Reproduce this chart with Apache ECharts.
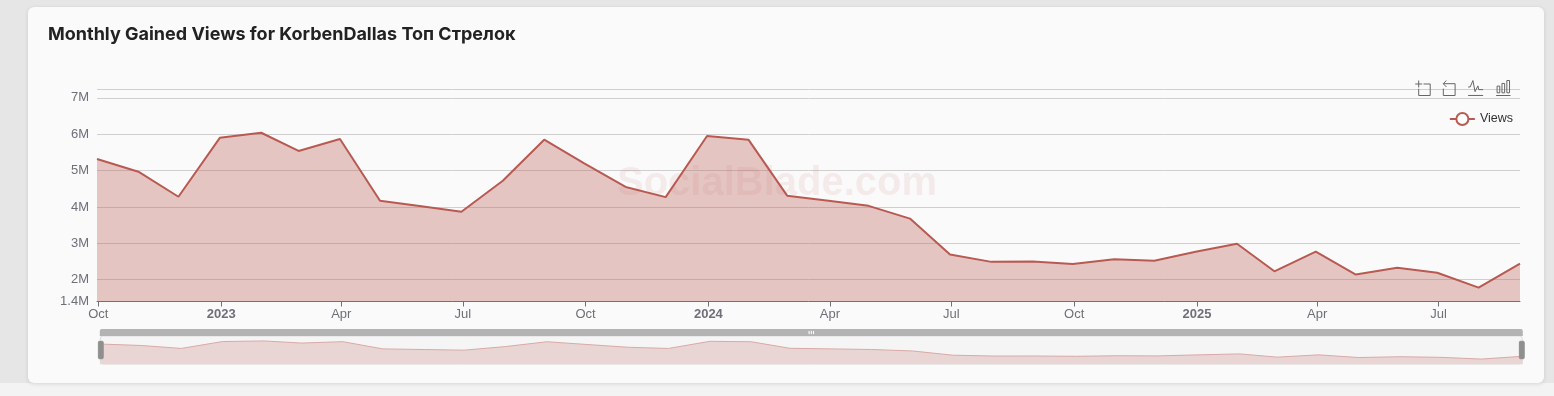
<!DOCTYPE html>
<html><head><meta charset="utf-8">
<script src="https://cdn.jsdelivr.net/npm/echarts@6/dist/echarts.min.js"></script>
<style>
html,body{margin:0;padding:0;width:1554px;height:396px;overflow:hidden;background:#f3f3f3}
#side{position:absolute;left:0;top:0;width:1554px;height:383px;background:#e6e6e6}
#card{position:absolute;left:28px;top:7px;width:1516px;height:376px;background:#fafafa;border-radius:6px;box-shadow:0 1px 4px rgba(0,0,0,.12)}
#main{position:absolute;left:0;top:0;width:1554px;height:396px}
</style></head><body>
<div id="side"></div><div id="card"></div><div id="main"></div>
<script>
const months = ['2022-09-30','2022-10-31','2022-11-30','2022-12-31','2023-01-31','2023-02-28','2023-03-31','2023-04-30','2023-05-31','2023-06-30','2023-07-31','2023-08-31','2023-09-30','2023-10-31','2023-11-30','2023-12-31','2024-01-31','2024-02-29','2024-03-31','2024-04-30','2024-05-31','2024-06-30','2024-07-31','2024-08-31','2024-09-30','2024-10-31','2024-11-30','2024-12-31','2025-01-31','2025-02-28','2025-03-31','2025-04-30','2025-05-31','2025-06-30','2025-07-31','2025-08-31'];
const views = [5.32,4.97,4.28,5.90,6.04,5.54,5.87,4.17,4.02,3.87,4.72,5.85,5.20,4.55,4.27,5.95,5.85,4.31,4.17,4.03,3.68,2.69,2.49,2.50,2.43,2.56,2.52,2.77,2.99,2.23,2.77,2.14,2.33,2.19,1.78,2.44];
const valueTicks = [1.4,2,3,4,5,6,7];
const chart = echarts.init(document.getElementById('main'), null, {renderer:'canvas'});
const color = '#b85a52';
const txt = '#6e7079';
const font = '"Liberation Sans", Arial, sans-serif';
chart.setOption({
  animation:false,
  title:{text:'Monthly Gained Views for KorbenDallas Топ Стрелок',left:48,top:26,padding:0,
    textStyle:{fontFamily:'Inter',fontSize:18,fontWeight:700,color:'#222'}},
  grid:{left:97,right:34,top:89.5,height:212},
  legend:{data:['Views'],right:36,top:107,itemWidth:25,itemHeight:15,itemGap:5,
    textStyle:{fontFamily:font,fontSize:12.5,color:'#333'}},
  toolbox:{right:26,top:63,itemSize:15,itemGap:8,iconStyle:{borderColor:'#666'},
    feature:{dataZoom:{show:true,title:{zoom:'',back:''}},magicType:{type:['line','bar'],title:{line:'',bar:''}}}},
  graphic:[{type:'text',left:617,top:164,silent:true,z:10,
    style:{text:'SocialBlade.com',fontFamily:font,fontSize:40,fontWeight:'bold',fill:'rgba(190,80,80,0.09)'}}],
  xAxis:{type:'time',boundaryGap:false,
    axisLine:{lineStyle:{color:'#6e7079'}},axisTick:{show:true,length:5,lineStyle:{color:'#6e7079'}},
    axisLabel:{fontFamily:font,fontSize:13,color:txt,margin:6,hideOverlap:false},
    splitLine:{show:false}},
  yAxis:{type:'value',min:1.4,max:7.23,
    axisLine:{show:false},axisTick:{show:false},
    axisLabel:{fontFamily:font,fontSize:13,color:txt,margin:8,
      customValues:valueTicks,
      formatter:v=>v+'M'},
    splitLine:{show:true,lineStyle:{color:'#cfcfcf'}}},
  dataZoom:[{type:'slider',left:97,right:34,top:329,height:29,start:0,end:100,
    showDetail:false,borderColor:'#ddd',borderRadius:3,
    backgroundColor:'#f5f5f5',
    handleIcon:'path://M1,0 H4 Q5,0 5,1 V17 Q5,18 4,18 H1 Q0,18 0,17 V1 Q0,0 1,0 Z',
    handleSize:'60%',
    handleStyle:{color:'#8f8f8f',borderColor:'#8f8f8f'},
    moveHandleSize:7,
    moveHandleStyle:{color:'#b3b3b3',opacity:1},
    fillerColor:'rgba(255,255,255,0)',
    dataBackground:{lineStyle:{color:'#d9a9a5',width:1},areaStyle:{color:color,opacity:.2}},
    selectedDataBackground:{lineStyle:{color:'#d9a9a5',width:1},areaStyle:{color:color,opacity:.2}}}],
  series:[{name:'Views',type:'line',showSymbol:false,symbol:'emptyCircle',symbolSize:12,
    data:months.map((m,i)=>[m,views[i]]),
    lineStyle:{color,width:2},itemStyle:{color,borderWidth:2},
    areaStyle:{color,opacity:0.33}}]
});
</script></body></html>
